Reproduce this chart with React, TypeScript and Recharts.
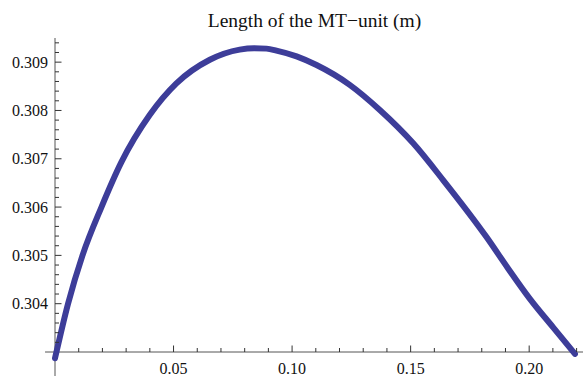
import { LineChart, Line, XAxis, YAxis, ReferenceLine } from "recharts";

const title = "Length of the MT\u2212unit (m)";

// angle / position along the unit (x) and length in metres (y)
const positions = [
  0, 0.0055, 0.0116, 0.0196, 0.028, 0.04, 0.0512, 0.0653, 0.0779, 0.084, 0.0892,
  0.0934, 0.1019, 0.1103, 0.1243, 0.137, 0.1511, 0.1637, 0.182, 0.1911, 0.2003,
  0.2101, 0.2193,
];
const lengths = [
  0.30287, 0.304, 0.305, 0.306, 0.30693, 0.30791, 0.30856, 0.30905, 0.30926, 0.30929,
  0.30928, 0.30924, 0.30912, 0.30894, 0.30853, 0.30801, 0.30732, 0.30656, 0.30538,
  0.30473, 0.3041, 0.30351, 0.30296,
];

const xMajorTicks = [0.05, 0.1, 0.15, 0.2];
const yMajorTicks = [0.304, 0.305, 0.306, 0.307, 0.308, 0.309];

const data = positions.map((x, i) => ({ x, y: lengths[i] }));

// minor ticks: every 0.01 on x, every 0.0002 on y
const xTicks = Array.from({ length: 22 }, (_, i) => +((i + 1) * 0.01).toFixed(2));
const yTicks = Array.from({ length: 32 }, (_, i) => +(0.303 + (i + 1) * 0.0002).toFixed(4));

const FONT = "'Liberation Serif', 'Times New Roman', serif";
const BLUE = "#3d3d99";
const AXIS = "#555";
const TICK = "#333";

const isMajor = (list: number[], v: number) => list.some((t) => Math.abs(t - v) < 1e-7);

function XTick({ x, y, payload }: any) {
  const v = payload.value;
  const major = isMajor(xMajorTicks, v);
  return (
    <g>
      <line x1={x} x2={x} y1={y} y2={y - (major ? 6.5 : 4)} stroke={TICK} />
      {major && (
        <text x={x} y={y + 21.5} textAnchor="middle" fill="#111" fontSize={16} fontFamily={FONT}>
          {v.toFixed(2)}
        </text>
      )}
    </g>
  );
}

function YTick({ x, y, payload }: any) {
  const v = payload.value;
  const major = isMajor(yMajorTicks, v);
  return (
    <g>
      <line x1={x} x2={x + (major ? 6.5 : 4)} y1={y} y2={y} stroke={TICK} />
      {major && (
        <text x={x - 7} y={y + 5.5} textAnchor="end" fill="#111" fontSize={16} fontFamily={FONT}>
          {v.toFixed(3)}
        </text>
      )}
    </g>
  );
}

export default function App() {
  return (
    <div style={{ position: "relative", width: 584, height: 376, background: "#fff" }}>
      <style>{`body{margin:0} .recharts-line, .recharts-line *{clip-path:none}`}</style>
      <LineChart width={584} height={376} data={data} margin={{ top: 38, right: 1, bottom: 0, left: 0 }}>
        <XAxis
          dataKey="x"
          type="number"
          domain={[0, 0.2227]}
          ticks={xTicks}
          interval={0}
          allowDataOverflow
          axisLine={false}
          tickLine={false}
          tickSize={0}
          tickMargin={0}
          height={24}
          tick={<XTick />}
        />
        <YAxis
          dataKey="y"
          type="number"
          domain={[0.303, 0.3095]}
          ticks={yTicks}
          interval={0}
          allowDataOverflow
          axisLine={false}
          tickLine={false}
          tickSize={0}
          tickMargin={0}
          width={55}
          tick={<YTick />}
        />
        <ReferenceLine
          segment={[{ x: -0.0042, y: 0.303 }, { x: 0.2227, y: 0.303 }]}
          ifOverflow="visible"
          stroke={AXIS}
        />
        <ReferenceLine
          segment={[{ x: 0, y: 0.3025 }, { x: 0, y: 0.3095 }]}
          ifOverflow="visible"
          stroke={AXIS}
        />
        <Line
          dataKey="y"
          type="monotone"
          stroke={BLUE}
          strokeWidth={6}
          strokeLinecap="round"
          dot={false}
          isAnimationActive={false}
        />
      </LineChart>
      <svg width={584} height={376} style={{ position: "absolute", left: 0, top: 0, pointerEvents: "none" }}>
        <text x={314.5} y={27} textAnchor="middle" fontSize={19.5} fontFamily={FONT} fill="#111">
          {title}
        </text>
      </svg>
    </div>
  );
}
